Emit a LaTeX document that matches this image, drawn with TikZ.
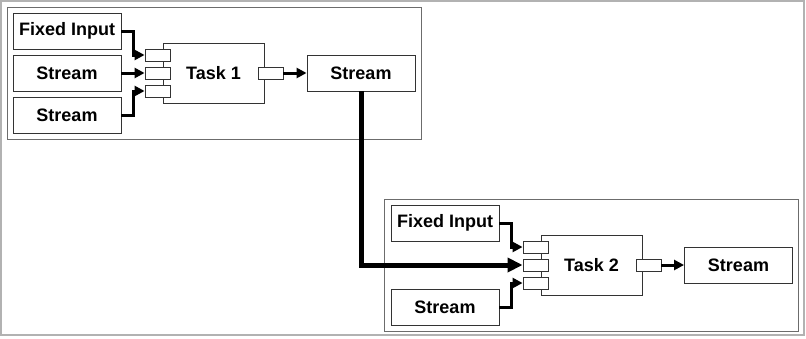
\documentclass[tikz,border=0pt]{standalone}
\usepackage{fontspec}
\setmainfont{Liberation Sans}
\usetikzlibrary{arrows.meta, positioning}

\begin{document}
\begin{tikzpicture}[
    x=1pt, y=-1pt,
    group/.style={rectangle, draw=gray!85!black, line width=1pt, minimum width=414pt, minimum height=132pt, inner sep=0pt},
    data/.style={rectangle, draw=black!80, line width=0.9pt, minimum width=108pt, minimum height=36pt, inner sep=0pt, font=\fontsize{18}{21}\selectfont\bfseries},
    task/.style={rectangle, draw=black!80, line width=0.9pt, minimum width=101pt, minimum height=60pt, inner sep=0pt, font=\fontsize{18}{21}\selectfont\bfseries},
    port/.style={rectangle, draw=black!80, fill=white, line width=0.9pt, minimum width=25pt, minimum height=12pt, inner sep=0pt},
    arrow/.style={-{Triangle[length=10pt, width=10pt]}, line width=3pt},
    bigarrow/.style={-{Triangle[length=15pt, width=14pt]}, line width=5pt}
]
\useasboundingbox (0,0) rectangle (806,338);
\draw[gray!60, line width=1.6pt] (1,1) rectangle (804,335);

% Groups
\node[group] (grp1) at (214,73) {};
\node[group] (grp2) at (591,265) {};

% Task 1
\node[data] (fixone) at (67,31) {Fixed Input};
\node[data] (streamone) at (67,73) {Stream};
\node[data] (streamtwo) at (67,115) {Stream};
\node[task] (taskone) at (213.5,73) {Task 1};
\node[port] (inonea) at (157.5,55) {};
\node[port] (inoneb) at (157.5,73) {};
\node[port] (inonec) at (157.5,91) {};
\node[port] (outone) at (270.5,73) {};
\node[data] (resultone) at (361,73) {Stream};

% Task 2
\node[data] (fixtwo) at (445,223) {Fixed Input};
\node[data] (streamthree) at (445,307) {Stream};
\node[task] (tasktwo) at (591.5,265) {Task 2};
\node[port] (intwoa) at (535.5,247) {};
\node[port] (intwob) at (535.5,265) {};
\node[port] (intwoc) at (535.5,283) {};
\node[port] (outtwo) at (648.5,265) {};
\node[data] (resulttwo) at (738.5,265) {Stream};

% Paths
\draw[arrow] (fixone.east) -- ++(12,0) |- (inonea.west);
\draw[arrow] (streamone.east) -- (inoneb.west);
\draw[arrow] (streamtwo.east) -- ++(12,0) |- (inonec.west);
\draw[arrow] (outone.east) -- (resultone.west);
\draw[bigarrow] (resultone.south) |- (intwob.west);
\draw[arrow] (fixtwo.east) -- ++(12,0) |- (intwoa.west);
\draw[arrow] (streamthree.east) -- ++(12,0) |- (intwoc.west);
\draw[arrow] (outtwo.east) -- (resulttwo.west);

\end{tikzpicture}
\end{document}
